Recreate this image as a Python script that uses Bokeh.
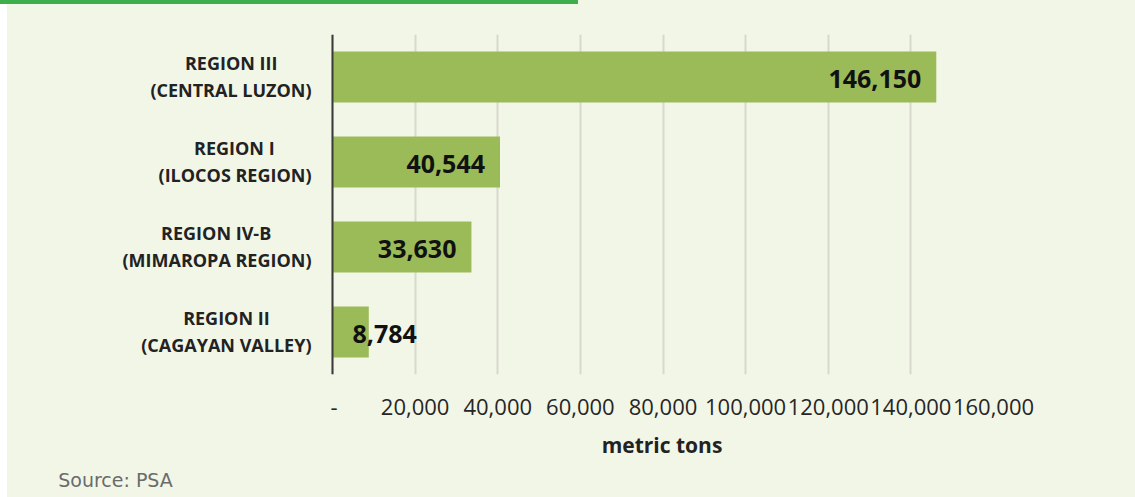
from bokeh.plotting import figure
from bokeh.models import ColumnDataSource, FactorRange, FixedTicker, Range1d, Div, Spacer, Span
from bokeh.layouts import column, row
from bokeh.core.properties import value
from bokeh.embed import file_html
from bokeh.resources import INLINE

# ---- data (top to bottom) ----
region_line1 = ["REGION III", "REGION I", "REGION IV-B", "REGION II"]
region_line2 = ["(CENTRAL LUZON)", "(ILOCOS REGION)", "(MIMAROPA REGION)", "(CAGAYAN VALLEY)"]
production = [146150, 40544, 33630, 8784]
value_labels = ["146,150", "40,544", "33,630", "8,784"]
tick_values = [0, 20000, 40000, 60000, 80000, 100000, 120000, 140000, 160000]
tick_labels = ["-", "20,000", "40,000", "60,000", "80,000", "100,000", "120,000", "140,000", "160,000"]
x_max = 160000
source_note = "Source: PSA"

# ---- styling ----
BG = "#F2F6E7"
BAR = "#9BBB59"
TOP_GREEN = "#3DAE49"
FONT = "Open Sans"
H, TOP, BOTTOM = 493, 30, 123
label_w = 323            # left panel holding the category labels and the source note
main_w = 805
right_w = 142
pad = 2                  # a little room left of zero so the axis line is not clipped
data_w = main_w - right_w - pad
px_per_unit = data_w / x_max
n = len(region_line1)

y_range = FactorRange(factors=list(reversed(region_line1)))

# ---------- main chart ----------
p = figure(width=main_w, height=H, output_backend="svg", toolbar_location=None,
           x_range=Range1d(-pad / px_per_unit, x_max), y_range=y_range,
           min_border_left=0, min_border_right=right_w, min_border_top=TOP, min_border_bottom=BOTTOM)
p.background_fill_color = BG
p.border_fill_color = BG
p.outline_line_color = None

p.hbar(y=region_line1, left=0, right=production, height=0.6, color=BAR, line_color=None)

lx, align, xoff = [], [], []
for v, t in zip(production, value_labels):
    if v * px_per_unit > len(t) * 0.6 * 25 + 20:
        lx.append(v); align.append("right"); xoff.append(-15)
    else:
        lx.append(0); align.append("left"); xoff.append(20)
vsrc = ColumnDataSource(dict(x=lx, y=region_line1, text=value_labels, align=align, xoff=xoff))
p.text(x="x", y="y", text="text", source=vsrc, text_align="align", x_offset="xoff",
       text_baseline="middle", y_offset=2, text_font=value(FONT), text_font_style="bold",
       text_font_size="25px", text_color="#111111")

xa = p.xaxis[0]
xa.ticker = FixedTicker(ticks=tick_values)
xa.major_label_overrides = {v: l for v, l in zip(tick_values, tick_labels)}
xa.axis_line_color = None
xa.major_tick_line_color = None
xa.minor_tick_line_color = None
xa.major_tick_out = 0
xa.major_tick_in = 0
xa.major_label_standoff = 24
xa.major_label_text_font = FONT
xa.major_label_text_font_size = "22px"
xa.major_label_text_color = "#262626"
xa.axis_label = "metric tons"
xa.axis_label_text_font = FONT
xa.axis_label_text_font_style = "bold"
xa.axis_label_text_font_size = "21px"
xa.axis_label_text_color = "#222222"
xa.axis_label_standoff = 13

p.yaxis.visible = False
p.add_layout(Span(location=0, dimension="height", line_color="#3a3a3a", line_width=2))

p.xgrid.grid_line_color = "#D8D8CE"
p.xgrid.grid_line_width = 2
p.ygrid.grid_line_color = None

# ---------- category label panel (shares the y range; frames line up) ----------
lp = figure(width=label_w, height=H, output_backend="svg", toolbar_location=None,
            x_range=Range1d(0, label_w), y_range=y_range,
            min_border_left=0, min_border_right=0, min_border_top=TOP, min_border_bottom=BOTTOM)
lp.background_fill_color = BG
lp.border_fill_color = BG
lp.outline_line_color = None
lp.yaxis.visible = False
lp.grid.visible = False

W = {"(": .338, ")": .338, " ": .26, "-": .322, "A": .69, "B": .686, "C": .64, "D": .739, "E": .564,
     "F": .548, "G": .733, "H": .76, "I": .362, "L": .564, "M": .938, "N": .8, "O": .787, "P": .653,
     "R": .675, "S": .575, "T": .577, "U": .756, "V": .66, "Y": .617, "Z": .572}
cat_fs = 18
gap = 19
w2 = [sum(W.get(c, .6) for c in s) * cat_fs for s in region_line2]
csrc = ColumnDataSource(dict(x=[label_w] * n, y=region_line1, t1=region_line1, t2=region_line2,
                             off1=[-gap - w / 2 for w in w2]))
lp.text(x="x", y="y", text="t1", source=csrc, x_offset="off1", y_offset=-14.5,
        text_align="center", text_baseline="alphabetic", text_font=value(FONT),
        text_font_style="bold", text_font_size=f"{cat_fs}px", text_color="#222222")
lp.text(x="x", y="y", text="t2", source=csrc, x_offset=-gap, y_offset=12.5,
        text_align="right", text_baseline="alphabetic", text_font=value(FONT),
        text_font_style="bold", text_font_size=f"{cat_fs}px", text_color="#222222")

# source note, carried by the label panel's bottom axis
note_x = 108
la = lp.xaxis[0]
la.ticker = FixedTicker(ticks=[note_x])
la.major_label_overrides = {note_x: source_note}
la.axis_line_color = None
la.major_tick_line_color = None
la.minor_tick_line_color = None
la.major_tick_out = 0
la.major_tick_in = 0
la.major_label_standoff = 94
la.major_label_text_font = "DejaVu Sans"
la.major_label_text_font_size = "19px"
la.major_label_text_color = "#6b6b6b"

top = Div(text="", width=1135, height=4, margin=0,
          styles={"background": f"linear-gradient(to right, {TOP_GREEN} 0px, {TOP_GREEN} 578px, {BG} 578px)"})
body = row(Spacer(width=7, height=H, margin=0, styles={"background-color": "white"}), lp, p,
           spacing=0, styles={"background-color": BG})
layout = column(top, body, spacing=0)

open("out.html", "w").write(file_html(layout, INLINE))
